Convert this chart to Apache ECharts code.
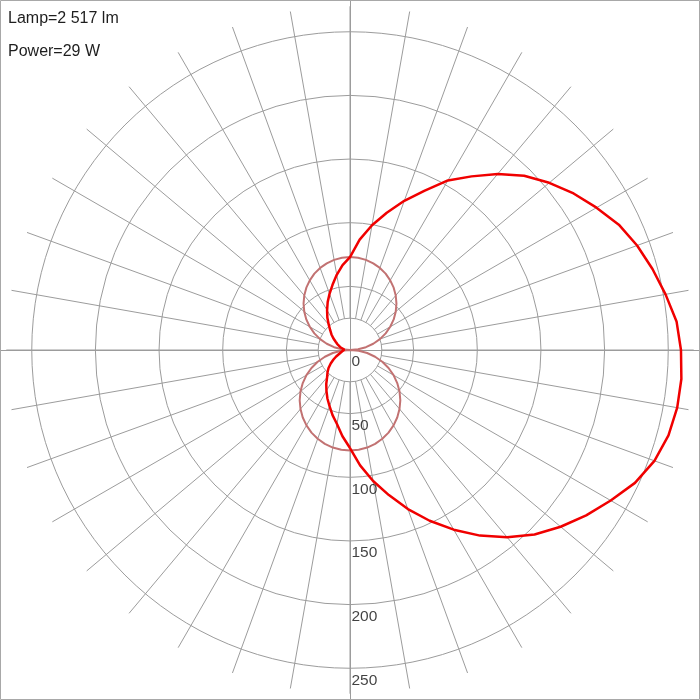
<!DOCTYPE html>
<html>
<head>
<meta charset="utf-8">
<script src="https://cdn.jsdelivr.net/npm/echarts@6/dist/echarts.min.js"></script>
<style>html,body{margin:0;padding:0;background:#fff}#chart{width:700px;height:700px}</style>
</head>
<body>
<div id="chart"></div>
<script>
// ---- data ----
const infoTexts = ['Lamp=2 517 lm', 'Power=29 W'];
const tickLabels = [0, 50, 100, 150, 200, 250];
// gamma angle (0 = nadir, 90 = right, 180 = up, 270 = left), 5 degree steps
const gammaAngles = [0,5,10,15,20,25,30,35,40,45,50,55,60,65,70,75,80,85,
                     90,95,100,105,110,115,120,125,130,135,140,145,150,155,160,165,170,175,
                     180,185,190,195,200,205,210,215,220,225,230,235,240,245,250,255,260,265,
                     270,275,280,285,290,295,300,305,310,315,320,325,330,335,340,345,350,355,360];
const redValues = [77,91,104.5,118,133,148,163,178,192,205,216,226.5,236.5,247,254.5,259,261,261.3,
                   260,257.5,251.7,246,240,233,223.6,214.4,204.3,193.5,180.6,166.5,153.8,138,124.7,111.6,99.5,87,
                   73,67,60,53,47,41.5,36,31,26,22,19,16,13,11,9,7.5,6,4.5,
                   3,4.5,6,7.5,9,12,15,18.5,22,25,28,32.5,37,42,47,53,59,68,77];
const rosyValues = [79,78.7,77.8,76.3,74.2,71.6,68.4,64.7,60.5,55.9,50.8,45.3,39.5,33.4,27,20.4,13.7,6.9,
                    0,6.4,12.7,18.9,25,30.9,36.5,41.9,46.9,51.6,55.9,59.8,63.2,66.2,68.6,70.5,71.9,72.7,
                    73,72.7,71.9,70.5,68.6,66.2,63.2,59.8,55.9,51.6,46.9,41.9,36.5,30.9,25,18.9,12.7,6.4,
                    0,6.9,13.7,20.4,27,33.4,39.5,45.3,50.8,55.9,60.5,64.7,68.4,71.6,74.2,76.3,77.8,78.7,79];

// ---- styling ----
const GRID = '#9c9c9c';
const PX_PER_UNIT = 1.273;
const R_MAX = 270;        // spokes reach
const R_RINGS = 250;      // outer ring
const R_INNER = 25;       // inner ring where spokes start
const FONT = '"Liberation Sans", Arial, sans-serif';

const chart = echarts.init(document.getElementById('chart'), null, {renderer: 'canvas'});

const angleBase = {type: 'value', min: 0, max: 360, startAngle: -90, clockwise: false};
const hiddenAngle = Object.assign({}, angleBase, {show: false});

const option = {
  animation: false,
  backgroundColor: '#fff',
  grid: {left: 0, right: 0, top: 0, bottom: 0, show: false},
  xAxis: {type: 'value', min: -1, max: 1, axisLine: {show: true, onZero: true, lineStyle: {color: GRID, width: 1}},
          axisTick: {show: false}, axisLabel: {show: false}, splitLine: {show: false}},
  yAxis: {type: 'value', min: -1, max: 1, axisLine: {show: true, onZero: true, lineStyle: {color: GRID, width: 1}},
          axisTick: {show: false}, axisLabel: {show: false}, splitLine: {show: false}},
  polar: [
    {center: ['50%', '50%'], radius: R_MAX * PX_PER_UNIT},
    {center: ['50%', '50%'], radius: R_RINGS * PX_PER_UNIT},
    {center: ['50%', '50%'], radius: [R_INNER * PX_PER_UNIT, R_MAX * PX_PER_UNIT]},
    {center: ['50%', '50%'], radius: R_INNER * PX_PER_UNIT}
  ],
  radiusAxis: [
    {polarIndex: 0, type: 'value', min: 0, max: R_MAX, show: false},
    {polarIndex: 1, type: 'value', min: 0, max: R_RINGS, interval: 50,
     axisLine: {show: false}, axisTick: {show: false}, axisLabel: {show: false},
     splitLine: {show: true, lineStyle: {color: GRID, width: 1}}},
    {polarIndex: 2, type: 'value', min: R_INNER, max: R_MAX, show: false},
    {polarIndex: 3, type: 'value', min: 0, max: R_INNER, show: false}
  ],
  angleAxis: [
    Object.assign({polarIndex: 0}, hiddenAngle),
    Object.assign({polarIndex: 1}, hiddenAngle),
    Object.assign({polarIndex: 2}, angleBase, {interval: 10,
      axisLine: {show: false}, axisTick: {show: false}, axisLabel: {show: false},
      splitLine: {show: true, lineStyle: {color: GRID, width: 1}}}),
    Object.assign({polarIndex: 3}, angleBase, {interval: 90,
      axisLine: {show: true, lineStyle: {color: GRID, width: 1}}, axisTick: {show: false},
      axisLabel: {show: false}, splitLine: {show: false}})
  ],
  graphic: [
    {type: 'rect', shape: {x: 0.5, y: 0.5, width: 699, height: 699}, style: {fill: null, stroke: '#a8a8a8', lineWidth: 1}, z: 100},
    {type: 'text', left: 8, top: 11, style: {text: infoTexts[0], font: '16px ' + FONT, fill: '#1e1e1e'}, z: 100},
    {type: 'text', left: 8, top: 44, style: {text: infoTexts[1], font: '16px ' + FONT, fill: '#1e1e1e'}, z: 100}
  ],
  series: [
    {type: 'line', coordinateSystem: 'polar', polarIndex: 0, clip: false, symbol: 'none',
     data: gammaAngles.map((a, i) => [rosyValues[i], a]),
     lineStyle: {color: '#c27272', width: 2}, z: 3},
    {type: 'line', coordinateSystem: 'polar', polarIndex: 0, clip: false, symbol: 'none',
     data: gammaAngles.map((a, i) => [redValues[i], a]),
     lineStyle: {color: '#f00000', width: 2.5}, z: 4},
    {type: 'scatter', coordinateSystem: 'polar', polarIndex: 0, symbolSize: 1,
     itemStyle: {color: 'rgba(0,0,0,0)'},
     data: tickLabels.map(v => [v, 0]),
     label: {show: true, position: 'right', distance: 1, offset: [0, 12],
             formatter: p => String(p.value[0]), color: '#111', fontSize: 15.5, fontFamily: FONT},
     z: 10}
  ]
};
chart.setOption(option);
</script>
</body>
</html>
